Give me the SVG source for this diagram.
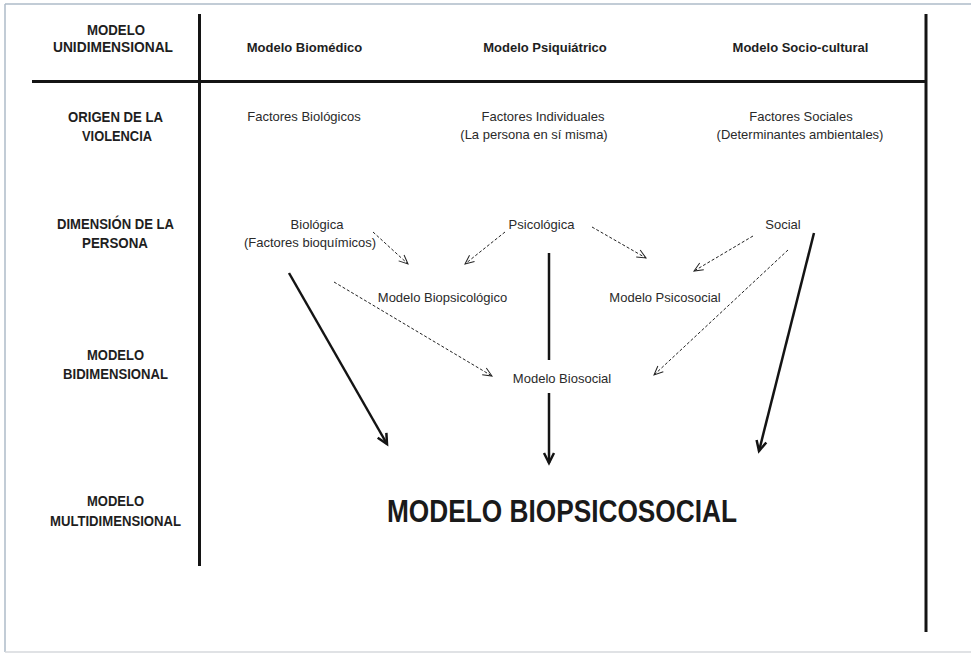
<svg xmlns="http://www.w3.org/2000/svg" width="971" height="653" viewBox="0 0 971 653">
  <style>
    .frame { stroke: #aebbc9; stroke-width: 1.5; fill: none; }
    .grid { stroke: #141414; stroke-width: 3; fill: none; }
    .row { font-family: "Liberation Sans", Arial, sans-serif; font-weight: bold; font-size: 14.5px; fill: #1e1e1e; text-anchor: middle; }
    .head { font-family: "Liberation Sans", Arial, sans-serif; font-weight: bold; font-size: 13px; fill: #1e1e1e; text-anchor: middle; }
    .txt { font-family: "Liberation Sans", Arial, sans-serif; font-size: 13px; fill: #2a2a2a; text-anchor: middle; }
    .title { font-family: "Liberation Sans", Arial, sans-serif; font-weight: bold; font-size: 32px; fill: #1a1a1a; text-anchor: middle; }
    .dash { stroke: #222; stroke-width: 1; stroke-dasharray: 3 2; fill: none; marker-end: url(#openHead); }
    .solid { stroke: #141414; stroke-width: 2.5; fill: none; }
    .solidArrow { stroke: #141414; stroke-width: 2.5; fill: none; marker-end: url(#boldHead); }
  </style>
  <defs>
    <marker id="openHead" markerUnits="userSpaceOnUse" markerWidth="12" markerHeight="12" refX="9" refY="4" orient="auto" overflow="visible">
      <path d="M0,0 L9,4 L0,8" fill="none" stroke="#222" stroke-width="1"/>
    </marker>
    <marker id="boldHead" markerUnits="userSpaceOnUse" markerWidth="14" markerHeight="14" refX="10" refY="5" orient="auto" overflow="visible">
      <path d="M0,0 L10,5 L0,10" fill="none" stroke="#141414" stroke-width="2.5"/>
    </marker>
  </defs>

  <rect width="971" height="653" fill="#ffffff"/>

  <!-- page frame -->
  <g id="frame">
    <line class="frame" x1="5" y1="4" x2="971" y2="4"/>
    <line class="frame" x1="5" y1="4" x2="5" y2="652"/>
    <line x1="5" y1="652" x2="971" y2="652" stroke="#d6d9dc" stroke-width="1.5"/>
  </g>

  <!-- table rules -->
  <g id="rules">
    <line class="grid" x1="199.5" y1="14" x2="199.5" y2="566"/>
    <line class="grid" x1="926" y1="14" x2="926" y2="632"/>
    <line class="grid" x1="32" y1="81.5" x2="926" y2="81.5"/>
  </g>

  <!-- row labels -->
  <g id="row-unidimensional">
    <text class="row" x="116" y="35" textLength="58" lengthAdjust="spacingAndGlyphs">MODELO</text>
    <text class="row" x="113" y="52" textLength="120" lengthAdjust="spacingAndGlyphs">UNIDIMENSIONAL</text>
  </g>
  <g id="row-origen">
    <text class="row" x="115.5" y="122" textLength="95" lengthAdjust="spacingAndGlyphs">ORIGEN DE LA</text>
    <text class="row" x="117" y="141" textLength="70" lengthAdjust="spacingAndGlyphs">VIOLENCIA</text>
  </g>
  <g id="row-dimension">
    <text class="row" x="115.5" y="229" textLength="117" lengthAdjust="spacingAndGlyphs">DIMENSIÓN DE LA</text>
    <text class="row" x="115" y="248" textLength="66" lengthAdjust="spacingAndGlyphs">PERSONA</text>
  </g>
  <g id="row-bidimensional">
    <text class="row" x="115.5" y="360" textLength="57" lengthAdjust="spacingAndGlyphs">MODELO</text>
    <text class="row" x="115.5" y="379" textLength="105" lengthAdjust="spacingAndGlyphs">BIDIMENSIONAL</text>
  </g>
  <g id="row-multidimensional">
    <text class="row" x="115.5" y="506" textLength="57" lengthAdjust="spacingAndGlyphs">MODELO</text>
    <text class="row" x="115.5" y="526" textLength="131" lengthAdjust="spacingAndGlyphs">MULTIDIMENSIONAL</text>
  </g>

  <!-- column headers -->
  <g id="col-biomedico"><text class="head" x="304.5" y="52">Modelo Biomédico</text></g>
  <g id="col-psiquiatrico"><text class="head" x="545" y="52">Modelo Psiquiátrico</text></g>
  <g id="col-sociocultural"><text class="head" x="800.5" y="52">Modelo Socio-cultural</text></g>

  <!-- origin of violence -->
  <g id="factores-biologicos"><text class="txt" x="304" y="121">Factores Biológicos</text></g>
  <g id="factores-individuales">
    <text class="txt" x="543" y="121">Factores Individuales</text>
    <text class="txt" x="534" y="139">(La persona en sí misma)</text>
  </g>
  <g id="factores-sociales">
    <text class="txt" x="801" y="121">Factores Sociales</text>
    <text class="txt" x="800" y="139">(Determinantes ambientales)</text>
  </g>

  <!-- dimensions of the person -->
  <g id="biologica">
    <text class="txt" x="317" y="229">Biológica</text>
    <text class="txt" x="310" y="247">(Factores bioquímicos)</text>
  </g>
  <g id="psicologica"><text class="txt" x="541.5" y="229">Psicológica</text></g>
  <g id="social"><text class="txt" x="783" y="229">Social</text></g>

  <!-- two-dimensional models -->
  <g id="biopsicologico"><text class="txt" x="442.5" y="302">Modelo Biopsicológico</text></g>
  <g id="psicosocial"><text class="txt" x="665" y="302">Modelo Psicosocial</text></g>
  <g id="biosocial"><text class="txt" x="562" y="383">Modelo Biosocial</text></g>

  <!-- multidimensional model -->
  <g id="biopsicosocial"><text class="title" x="562" y="522" textLength="350" lengthAdjust="spacingAndGlyphs">MODELO BIOPSICOSOCIAL</text></g>

  <!-- connectors -->
  <g id="connectors">
    <line class="dash" x1="373" y1="232" x2="408" y2="264"/>
    <line class="dash" x1="505" y1="232" x2="465" y2="264"/>
    <line class="dash" x1="592" y1="227" x2="646" y2="258"/>
    <line class="dash" x1="753" y1="236" x2="694" y2="271"/>
    <line class="dash" x1="334" y1="282" x2="492" y2="376"/>
    <line class="dash" x1="788" y1="250" x2="654" y2="375"/>
    <line class="solidArrow" x1="289" y1="273" x2="387" y2="444"/>
    <line class="solid" x1="549" y1="253" x2="549" y2="360"/>
    <line class="solidArrow" x1="549" y1="393" x2="549" y2="463"/>
    <line class="solidArrow" x1="814" y1="233" x2="759" y2="451"/>
  </g>
</svg>
